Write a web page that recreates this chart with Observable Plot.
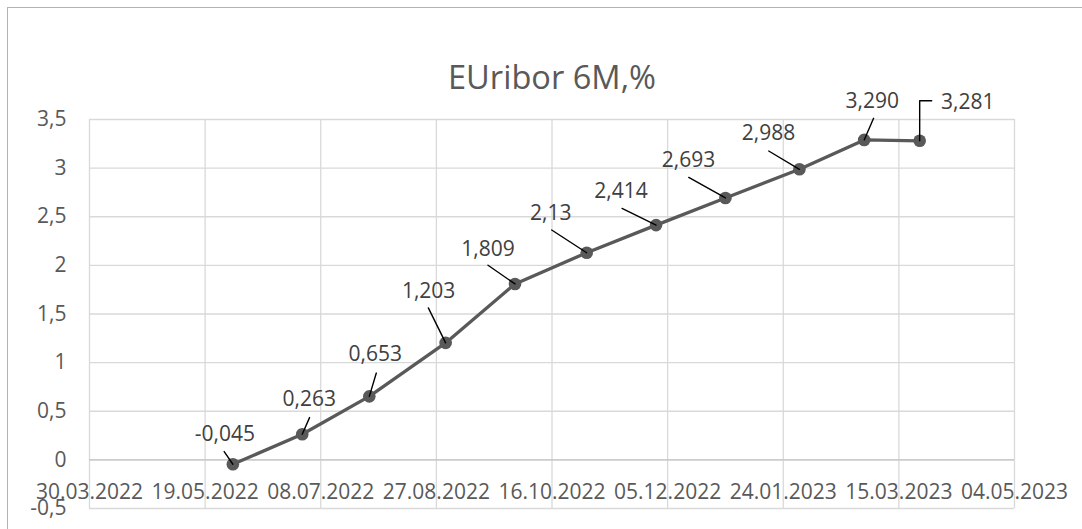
<!DOCTYPE html>
<html>
<head>
<meta charset="utf-8">
<script src="https://cdn.jsdelivr.net/npm/d3@7"></script>
<script src="https://cdn.jsdelivr.net/npm/@observablehq/plot@0.6"></script>
<style>
  html, body { margin: 0; padding: 0; background: #fff; }
  #wrap { position: relative; width: 1082px; height: 529px; overflow: hidden; }
  #wrap svg { display: block; }
  #border { position: absolute; left: 7px; top: 7px; width: 1200px; height: 700px;
            border-left: 1.5px solid #b4b4b4; border-top: 1.5px solid #b4b4b4; pointer-events: none; }
</style>
</head>
<body>
<div id="wrap"><div id="border"></div></div>
<script>
// ---- data ----
const title = "EUribor 6M,%";
const dates = ["31.05.2022","30.06.2022","29.07.2022","31.08.2022","30.09.2022","31.10.2022",
               "30.11.2022","30.12.2022","31.01.2023","28.02.2023","24.03.2023"];
const values = [-0.045, 0.263, 0.653, 1.203, 1.809, 2.13, 2.414, 2.693, 2.988, 3.29, 3.281];
const valueLabels = ["-0,045","0,263","0,653","1,203","1,809","2,13","2,414","2,693","2,988","3,290","3,281"];
const xTickLabels = ["30.03.2022","19.05.2022","08.07.2022","27.08.2022","16.10.2022",
                     "05.12.2022","24.01.2023","15.03.2023","04.05.2023"];
const yTicks = [-0.5, 0, 0.5, 1, 1.5, 2, 2.5, 3, 3.5];

// ---- label layout (pixel offsets, style only) ----
const labelDx = [-8, 7, 6, -17, -27, -36, -35, -37, -31, 8, 48];
const labelDy = [-30, -35, -42, -52, -35, -39, -34, -38, -36, -39, -39];
const leaderDx = [-8.7, 7.3, 7, -17.3, -27, -35, -34, -36.7, -30.7, 9.4, 0];
const leaderDy = [-12.7, -16.7, -23.3, -35, -18.7, -22.7, -16.7, -20.6, -18.3, -21.6, -40];
const bentIndex = 10;

const parse = s => { const [d, m, y] = s.split(".").map(Number); return new Date(Date.UTC(y, m - 1, d)); };
const rows = dates.map((s, i) => ({
  date: parse(s), value: values[i], label: valueLabels[i], i,
  len: Math.hypot(leaderDx[i], leaderDy[i]),
  rot: Math.atan2(leaderDx[i], -leaderDy[i]) * 180 / Math.PI
}));
const xTicks = xTickLabels.map(parse);

const gray = "#595959";
const straightLeader = { draw(ctx, l) { ctx.moveTo(0, 0); ctx.lineTo(0, -l); } };
const bentLeader = { draw(ctx, l) { ctx.moveTo(0, 0); ctx.lineTo(0, -l); ctx.lineTo(12, -l); } };

const chart = Plot.plot({
  width: 1082,
  height: 529,
  marginLeft: 89,
  marginRight: 68,
  marginTop: 119,
  marginBottom: 21,
  style: { fontFamily: "'Open Sans', sans-serif", fontSize: "21px", color: gray, background: "transparent", overflow: "visible" },
  x: { type: "utc", domain: [xTicks[0], xTicks[xTicks.length - 1]], axis: null },
  y: { domain: [-0.5, 3.5], ticks: yTicks, tickSize: 0, tickPadding: 23,
       tickFormat: d => String(d).replace(".", ","), label: null },
  length: { domain: [0, 100], range: [0, 100] },
  marks: [
    Plot.ruleY(yTicks, { stroke: "#d9d9d9", strokeWidth: 1.3 }),
    Plot.ruleX(xTicks, { stroke: "#d9d9d9", strokeWidth: 1.3 }),
    Plot.ruleY([0], { stroke: "#c4c4c4", strokeWidth: 1.3 }),
    Plot.text(xTickLabels, { x: d => parse(d), y: () => 0, text: d => d, dy: 32, fill: gray, fontSize: 21 }),
    Plot.line(rows, { x: "date", y: "value", stroke: gray, strokeWidth: 3.3 }),
    Plot.dot(rows, { x: "date", y: "value", r: 6.3, fill: gray, stroke: "none" }),
    Plot.vector(rows.filter(d => d.i !== bentIndex), {
      x: "date", y: "value", length: "len", rotate: "rot", anchor: "start",
      shape: straightLeader, stroke: "#000", strokeWidth: 1.4
    }),
    Plot.vector(rows.filter(d => d.i === bentIndex), {
      x: "date", y: "value", length: "len", rotate: "rot", anchor: "start",
      shape: bentLeader, stroke: "#000", strokeWidth: 1.4
    }),
    ...rows.map(r => Plot.text([r], {
      x: "date", y: "value", text: "label", dx: labelDx[r.i], dy: labelDy[r.i],
      fill: "#404040", fontSize: 21
    })),
    Plot.text([title], { frameAnchor: "top", dy: -54, text: d => d, fontSize: 32.6, fill: gray })
  ]
});
document.getElementById("wrap").prepend(chart);
</script>
</body>
</html>
